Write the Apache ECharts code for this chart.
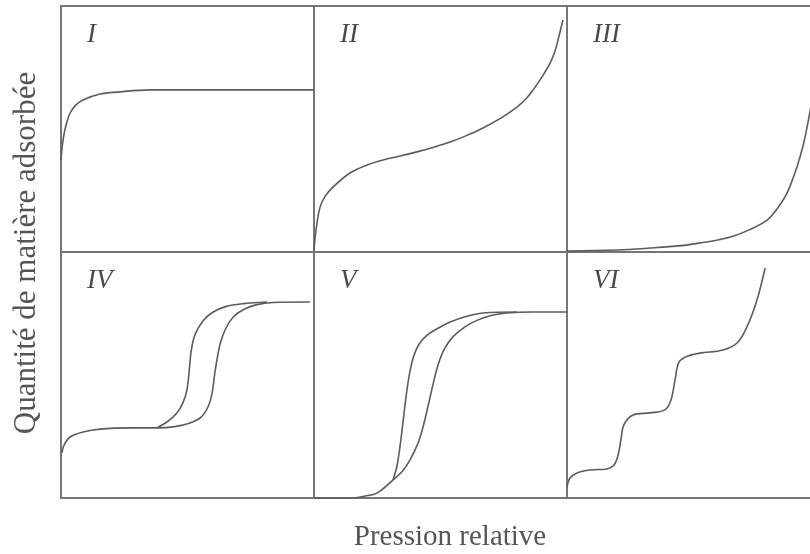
<!DOCTYPE html>
<html>
<head>
<meta charset="utf-8">
<script src="https://cdn.jsdelivr.net/npm/echarts@6/dist/echarts.min.js"></script>
<style>
  html, body { margin: 0; padding: 0; background: #fff; }
  #chart { width: 810px; height: 554px; }
</style>
</head>
<body>
<div id="chart"></div>
<script>
// panel names, in reading order
const panelLabels = ['I', 'II', 'III', 'IV', 'V', 'VI'];

// relative pressure (0..1) vs adsorbed amount (0..1)
const typeI = [[0, 0.374], [0.008, 0.455], [0.02, 0.516], [0.036, 0.565], [0.059, 0.598],
  [0.087, 0.618], [0.154, 0.642], [0.221, 0.650], [0.352, 0.659], [0.6, 0.659], [1, 0.659]];

const typeII = [[0, 0.008], [0.008, 0.089], [0.024, 0.183], [0.045, 0.228], [0.075, 0.264],
  [0.142, 0.321], [0.2, 0.35], [0.273, 0.374], [0.34, 0.39], [0.407, 0.407], [0.47, 0.425],
  [0.538, 0.447], [0.6, 0.472], [0.668, 0.504], [0.74, 0.545], [0.802, 0.589], [0.84, 0.625],
  [0.866, 0.659], [0.9, 0.71], [0.933, 0.768], [0.952, 0.815], [0.966, 0.868], [0.984, 0.943]];

const typeIII = [[0, 0.004], [0.2, 0.008], [0.328, 0.016], [0.45, 0.026], [0.526, 0.037],
  [0.6, 0.05], [0.656, 0.064], [0.72, 0.09], [0.791, 0.130], [0.83, 0.175], [0.87, 0.24],
  [0.909, 0.346], [0.935, 0.44], [0.955, 0.54], [0.968, 0.618]];

const typeIVads = [[0.004, 0.183], [0.012, 0.215], [0.036, 0.248], [0.087, 0.268], [0.154, 0.280],
  [0.273, 0.285], [0.379, 0.285], [0.45, 0.29], [0.51, 0.305], [0.555, 0.33], [0.583, 0.375],
  [0.598, 0.43], [0.607, 0.5], [0.617, 0.565], [0.63, 0.63], [0.65, 0.687], [0.68, 0.735],
  [0.72, 0.765], [0.77, 0.785], [0.84, 0.795], [0.984, 0.797]];
const typeIVdes = [[0.379, 0.285], [0.42, 0.31], [0.458, 0.346], [0.483, 0.39], [0.498, 0.44],
  [0.507, 0.52], [0.515, 0.6], [0.53, 0.665], [0.561, 0.72], [0.6, 0.755], [0.65, 0.778],
  [0.72, 0.79], [0.814, 0.797]];

const typeVads = [[0, 0], [0.142, 0], [0.202, 0.008], [0.249, 0.020], [0.312, 0.073],
  [0.35, 0.11], [0.379, 0.154], [0.41, 0.22], [0.431, 0.289], [0.45, 0.37], [0.47, 0.46],
  [0.49, 0.54], [0.515, 0.605], [0.549, 0.655], [0.6, 0.698], [0.644, 0.722], [0.7, 0.742],
  [0.763, 0.752], [0.866, 0.756], [1, 0.756]];
const typeVdes = [[0.312, 0.073], [0.328, 0.13], [0.345, 0.25], [0.36, 0.38], [0.375, 0.49],
  [0.392, 0.57], [0.415, 0.625], [0.447, 0.662], [0.49, 0.69], [0.538, 0.715], [0.6, 0.738],
  [0.668, 0.752], [0.802, 0.756]];

const typeVI = [[0, 0.045], [0.012, 0.081], [0.040, 0.102], [0.091, 0.114], [0.158, 0.118],
  [0.186, 0.134], [0.202, 0.175], [0.213, 0.236], [0.225, 0.297], [0.261, 0.337],
  [0.328, 0.346], [0.387, 0.358], [0.411, 0.398], [0.427, 0.480], [0.443, 0.553],
  [0.478, 0.577], [0.526, 0.589], [0.617, 0.602], [0.672, 0.630], [0.711, 0.695],
  [0.751, 0.805], [0.783, 0.935]];

// which curves go in which panel
const panelCurves = [[typeI], [typeII], [typeIII], [typeIVads, typeIVdes], [typeVads, typeVdes], [typeVI]];

const xTitle = 'Pression relative';
const yTitle = 'Quantité de matière adsorbée';

const colLeft = [61, 314, 567];
const rowTop = [6, 252];
const panelW = 253, panelH = 246;
const lineColor = '#5c5c5c';
const frameColor = '#767676';
const serif = '"Liberation Serif", "DejaVu Serif", serif';

const grids = [], xAxes = [], yAxes = [], series = [], graphics = [];
panelLabels.forEach((name, i) => {
    const left = colLeft[i % 3], top = rowTop[Math.floor(i / 3)];
    grids.push({
        left: left, top: top, width: panelW, height: panelH,
        outerBoundsMode: 'none', containLabel: false,
        show: true, borderColor: frameColor, borderWidth: 2, backgroundColor: 'transparent'
    });
    xAxes.push({ gridIndex: i, type: 'value', min: 0, max: 1, show: false });
    yAxes.push({ gridIndex: i, type: 'value', min: 0, max: 1, show: false });
    panelCurves[i].forEach(curve => {
        series.push({
            type: 'line', xAxisIndex: i, yAxisIndex: i,
            data: curve, showSymbol: false, smooth: 0.35,
            lineStyle: { color: lineColor, width: 1.6 },
            silent: true
        });
    });
    graphics.push({
        type: 'text', left: left + 26, top: top + 15,
        style: { text: name, font: 'italic 27px ' + serif, fill: '#4a4a4a' }
    });
});

graphics.push({
    type: 'text', x: 450, y: 537,
    style: { text: xTitle, font: '29px ' + serif, fill: '#555', align: 'center', verticalAlign: 'middle' }
});
graphics.push({
    type: 'text', x: 27, y: 253, rotation: Math.PI / 2,
    style: { text: yTitle, font: '31px ' + serif, fill: '#555', align: 'center', verticalAlign: 'middle' }
});

const chart = echarts.init(document.getElementById('chart'));
chart.setOption({
    animation: false,
    backgroundColor: '#fff',
    grid: grids,
    xAxis: xAxes,
    yAxis: yAxes,
    series: series,
    graphic: graphics
});
</script>
</body>
</html>
